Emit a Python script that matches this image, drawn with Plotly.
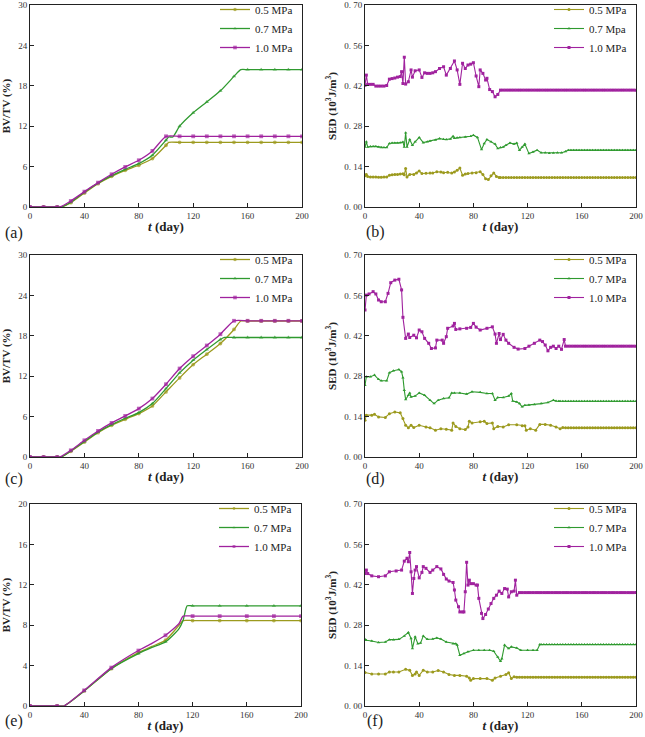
import plotly.graph_objects as go

W, H = 645, 737

# ---------------- Panel (a): BV/TV (%) vs t (day) ----------------
A_T_05 = [0, 10, 20, 23, 30, 40, 50, 60, 70, 80, 90, 100, 102, 110, 120, 130, 140, 150, 160, 170, 180, 190, 200]
A_V_05 = [0, 0, 0, 0, 0.64, 2.08, 3.47, 4.56, 5.45, 6.2, 7.19, 9.17, 9.6, 9.6, 9.6, 9.6, 9.6, 9.6, 9.6, 9.6, 9.6, 9.6, 9.6]
A_T_07 = [0, 10, 20, 23, 30, 40, 50, 60, 70, 80, 90, 100, 102, 105, 110, 120, 130, 140, 150, 155, 160, 170, 180, 190, 200]
A_V_07 = [0, 0, 0, 0, 0.7, 2.2, 3.55, 4.65, 5.6, 6.45, 7.69, 9.92, 10.4, 10.4, 12.0, 14.0, 15.6, 17.25, 19.4, 20.4, 20.4, 20.4, 20.4, 20.4, 20.4]
A_T_10 = [0, 10, 20, 22, 30, 40, 50, 60, 70, 80, 90, 100, 110, 120, 130, 140, 150, 160, 170, 180, 190, 200]
A_V_10 = [0, 0, 0, 0, 0.89, 2.28, 3.62, 4.86, 5.95, 6.94, 8.33, 10.5, 10.5, 10.5, 10.5, 10.5, 10.5, 10.5, 10.5, 10.5, 10.5, 10.5]

# ---------------- Panel (c): BV/TV (%) vs t (day) ----------------
C_T_05 = [0, 10, 20, 23, 30, 40, 50, 60, 70, 80, 90, 100, 110, 120, 130, 140, 150, 155, 160, 170, 180, 190, 200]
C_V_05 = [0, 0, 0, 0, 0.84, 2.23, 3.62, 4.71, 5.6, 6.45, 7.59, 9.67, 11.75, 13.73, 15.27, 16.86, 18.94, 20.2, 20.2, 20.2, 20.2, 20.2, 20.2]
C_T_07 = [0, 10, 20, 23, 30, 40, 50, 60, 70, 80, 90, 100, 110, 120, 130, 140, 143, 150, 160, 170, 180, 190, 200]
C_V_07 = [0, 0, 0, 0, 0.9, 2.3, 3.7, 4.8, 5.75, 6.6, 7.93, 10.16, 12.49, 14.38, 15.96, 17.45, 17.75, 17.75, 17.75, 17.75, 17.75, 17.75, 17.75]
C_T_10 = [0, 10, 20, 22, 30, 40, 50, 60, 70, 80, 90, 100, 110, 120, 130, 140, 150, 160, 170, 180, 190, 200]
C_V_10 = [0, 0, 0, 0, 0.99, 2.48, 3.87, 5.06, 6.1, 7.19, 8.68, 10.81, 13.14, 14.97, 16.56, 18.24, 20.23, 20.23, 20.23, 20.23, 20.23, 20.23]

# ---------------- Panel (e): BV/TV (%) vs t (day) ----------------
E_T_05 = [0, 20, 25, 40, 60, 80, 90, 100, 110, 113, 120, 140, 160, 180, 200]
E_V_05 = [0, 0, 0, 1.49, 3.7, 5.29, 5.9, 6.51, 8.0, 8.46, 8.46, 8.46, 8.46, 8.46, 8.46]
E_T_07 = [0, 20, 25, 40, 60, 80, 90, 100, 110, 113, 116, 120, 140, 160, 180, 200]
E_V_07 = [0, 0, 0, 1.49, 3.7, 5.19, 5.8, 6.35, 7.67, 8.5, 9.92, 9.92, 9.92, 9.92, 9.92, 9.92]
E_T_10 = [0, 20, 25, 40, 60, 80, 90, 100, 110, 113, 120, 140, 160, 180, 200]
E_V_10 = [0, 0, 0, 1.55, 3.8, 5.49, 6.2, 7.0, 8.17, 8.9, 8.9, 8.9, 8.9, 8.9, 8.9]

# ---------------- Panel (b): SED (10^3 J/m^3) vs t (day) ----------------
B_T_05 = [0, 1, 2, 4, 6, 8, 10, 12, 14, 16, 18, 20, 22, 24, 26, 28, 29, 30, 31, 33, 36, 38, 40, 42, 45, 48, 50, 53, 56, 58,
          61, 64, 66, 68, 70, 72, 74, 76, 79, 82, 85, 87, 89, 91, 93, 95, 97, 99]
B_V_05 = [0.108, 0.113, 0.106, 0.104, 0.104, 0.104, 0.103, 0.103, 0.104, 0.104, 0.110, 0.112, 0.113, 0.113, 0.114, 0.115,
          0.112, 0.133, 0.104, 0.113, 0.113, 0.118, 0.125, 0.116, 0.117, 0.118, 0.118, 0.122, 0.121, 0.119, 0.120, 0.118,
          0.121, 0.127, 0.135, 0.110, 0.114, 0.116, 0.118, 0.119, 0.122, 0.113, 0.098, 0.095, 0.108, 0.118, 0.106, 0.102]
B_PLATEAU_05, B_START_05 = 0.102, 100
B_T_07 = [0, 1, 2, 4, 6, 8, 10, 12, 14, 16, 18, 20, 22, 24, 26, 28, 29, 30, 31, 33, 35, 37, 40, 43, 46, 48, 52, 55, 58, 60,
          63, 65, 66, 68, 70, 74, 78, 80, 83, 86, 88, 90, 93, 96, 98, 100, 102, 104, 107, 110, 112, 114, 116, 118, 121, 124,
          127, 130, 133, 136, 139, 142, 145, 148, 150]
B_V_07 = [0.208, 0.226, 0.208, 0.210, 0.210, 0.210, 0.208, 0.206, 0.206, 0.206, 0.220, 0.222, 0.222, 0.222, 0.223, 0.225,
          0.208, 0.257, 0.208, 0.234, 0.214, 0.226, 0.241, 0.223, 0.226, 0.229, 0.232, 0.237, 0.235, 0.234, 0.236, 0.245,
          0.238, 0.240, 0.241, 0.243, 0.245, 0.249, 0.241, 0.199, 0.220, 0.234, 0.226, 0.218, 0.203, 0.206, 0.208, 0.214,
          0.222, 0.218, 0.222, 0.197, 0.208, 0.218, 0.185, 0.191, 0.197, 0.188, 0.188, 0.186, 0.187, 0.188, 0.188, 0.192,
          0.197]
B_PLATEAU_07, B_START_07 = 0.197, 152
B_T_10 = [0, 1, 2, 4, 6, 8, 10, 12, 14, 16, 18, 20, 22, 24, 26, 27, 28, 29, 30, 32, 34, 35, 37, 40, 42, 44, 46, 48, 50, 52,
          55, 58, 60, 63, 66, 68, 70, 72, 74, 76, 78, 80, 82, 84, 85, 87, 89, 90, 92, 94, 96, 98, 100]
B_V_10 = [0.422, 0.457, 0.425, 0.425, 0.425, 0.419, 0.419, 0.419, 0.419, 0.421, 0.443, 0.445, 0.447, 0.450, 0.452, 0.469,
          0.428, 0.519, 0.426, 0.434, 0.475, 0.450, 0.472, 0.475, 0.449, 0.465, 0.463, 0.463, 0.465, 0.469, 0.480, 0.486,
          0.457, 0.480, 0.506, 0.475, 0.425, 0.498, 0.480, 0.492, 0.495, 0.500, 0.454, 0.417, 0.475, 0.463, 0.440, 0.446,
          0.407, 0.400, 0.382, 0.390, 0.405]
B_PLATEAU_10, B_START_10 = 0.405, 102

# ---------------- Panel (d): SED ----------------
D_T_05 = [0, 1, 5, 7, 10, 15, 18, 22, 26, 28, 30, 32, 34, 36, 40, 45, 48, 52, 56, 60, 64, 65, 67, 70, 74, 76, 77, 79, 85, 88,
          90, 94, 95, 98, 102, 106, 112, 116, 118, 119, 122, 126, 129, 133, 137, 141, 144, 146]
D_V_05 = [0.127, 0.145, 0.145, 0.148, 0.139, 0.137, 0.150, 0.156, 0.153, 0.133, 0.110, 0.101, 0.110, 0.102, 0.110, 0.104,
          0.101, 0.093, 0.098, 0.096, 0.093, 0.118, 0.106, 0.098, 0.095, 0.104, 0.124, 0.118, 0.122, 0.124, 0.116, 0.118,
          0.098, 0.106, 0.104, 0.112, 0.112, 0.108, 0.108, 0.093, 0.098, 0.093, 0.113, 0.113, 0.110, 0.104, 0.098, 0.102]
D_PLATEAU_05, D_START_05 = 0.101, 148
D_T_07 = [0, 1, 4, 7, 10, 12, 16, 18, 21, 25, 27, 28, 29, 30, 32, 33, 34, 37, 40, 44, 48, 51, 54, 58, 62, 64, 66, 70, 75, 79,
          85, 90, 94, 96, 98, 102, 106, 108, 109, 112, 114, 116, 118, 121, 125, 130, 135, 139, 141, 143]
D_V_07 = [0.249, 0.278, 0.278, 0.284, 0.269, 0.264, 0.264, 0.292, 0.299, 0.303, 0.295, 0.275, 0.231, 0.199, 0.214, 0.222,
          0.208, 0.211, 0.222, 0.214, 0.197, 0.185, 0.197, 0.203, 0.205, 0.222, 0.222, 0.222, 0.218, 0.226, 0.224, 0.220,
          0.220, 0.197, 0.206, 0.206, 0.211, 0.220, 0.194, 0.191, 0.185, 0.174, 0.179, 0.180, 0.182, 0.185, 0.189, 0.197,
          0.194, 0.193]
D_PLATEAU_07, D_START_07 = 0.193, 144
D_T_10 = [0, 1, 3, 6, 8, 10, 12, 15, 17, 19, 22, 25, 27, 28, 30, 32, 33, 36, 38, 40, 42, 44, 47, 49, 52, 53, 57, 58, 60, 61,
          65, 66, 67, 70, 75, 78, 80, 82, 85, 90, 94, 96, 97, 99, 100, 102, 104, 106, 110, 113, 118, 121, 125, 129, 131,
          133, 135, 137, 139, 141, 143, 145, 147]
D_V_10 = [0.509, 0.561, 0.565, 0.573, 0.565, 0.544, 0.538, 0.538, 0.567, 0.604, 0.613, 0.616, 0.579, 0.484, 0.411, 0.426,
          0.414, 0.422, 0.413, 0.440, 0.434, 0.411, 0.394, 0.376, 0.378, 0.405, 0.405, 0.394, 0.417, 0.446, 0.454, 0.463,
          0.442, 0.444, 0.446, 0.449, 0.463, 0.450, 0.440, 0.446, 0.451, 0.426, 0.394, 0.428, 0.407, 0.425, 0.405, 0.394,
          0.380, 0.374, 0.376, 0.384, 0.394, 0.405, 0.400, 0.388, 0.368, 0.380, 0.384, 0.376, 0.384, 0.373, 0.407]
D_PLATEAU_10, D_START_10 = 0.384, 148

# ---------------- Panel (f): SED ----------------
F_T_05 = [0, 5, 10, 15, 18, 21, 25, 30, 33, 35, 37, 38, 40, 43, 46, 50, 54, 58, 62, 66, 70, 75, 77, 78, 80, 85, 90, 94, 96,
          100, 104, 106, 108, 110]
F_V_05 = [0.116, 0.111, 0.111, 0.111, 0.118, 0.118, 0.118, 0.127, 0.124, 0.106, 0.111, 0.118, 0.106, 0.124, 0.118, 0.118,
          0.123, 0.118, 0.109, 0.106, 0.106, 0.103, 0.097, 0.089, 0.095, 0.095, 0.095, 0.089, 0.097, 0.103, 0.109, 0.115,
          0.095, 0.101]
F_PLATEAU_05, F_START_05 = 0.100, 112
F_T_07 = [0, 1, 5, 10, 15, 18, 21, 25, 29, 32, 34, 35, 37, 39, 41, 43, 46, 50, 53, 56, 60, 65, 67, 68, 70, 73, 76, 80, 84, 88,
          92, 95, 98, 100, 101, 103, 106, 108, 112, 115, 120, 124, 127, 129]
F_V_07 = [0.231, 0.228, 0.225, 0.220, 0.222, 0.230, 0.230, 0.231, 0.243, 0.255, 0.234, 0.199, 0.240, 0.216, 0.218, 0.243,
          0.231, 0.232, 0.236, 0.232, 0.222, 0.216, 0.216, 0.211, 0.176, 0.182, 0.188, 0.193, 0.193, 0.193, 0.193, 0.190,
          0.170, 0.155, 0.164, 0.211, 0.199, 0.205, 0.201, 0.193, 0.193, 0.193, 0.193, 0.213]
F_PLATEAU_07, F_START_07 = 0.213, 130
F_T_10 = [0, 1, 2, 5, 10, 15, 18, 23, 27, 29, 31, 32, 33, 34, 35, 36, 37, 38, 40, 42, 43, 45, 48, 50, 53, 56, 58, 60, 62, 65,
          66, 67, 69, 70, 72, 73, 74, 75, 76, 77, 78, 80, 82, 83, 84, 86, 87, 89, 91, 93, 95, 97, 99, 101, 103, 105, 106,
          108, 110, 111, 112, 114]
F_V_10 = [0.459, 0.471, 0.459, 0.451, 0.448, 0.451, 0.465, 0.468, 0.471, 0.502, 0.512, 0.500, 0.532, 0.465, 0.390, 0.442,
          0.471, 0.483, 0.444, 0.463, 0.483, 0.477, 0.463, 0.471, 0.483, 0.475, 0.456, 0.440, 0.433, 0.428, 0.402, 0.367,
          0.344, 0.326, 0.326, 0.326, 0.396, 0.498, 0.419, 0.436, 0.424, 0.424, 0.419, 0.419, 0.373, 0.321, 0.303, 0.317,
          0.336, 0.355, 0.373, 0.384, 0.398, 0.390, 0.407, 0.405, 0.378, 0.396, 0.398, 0.436, 0.384, 0.393]
F_PLATEAU_10, F_START_10 = 0.393, 116

LABELS = ["0.5 MPa", "0.7 MPa", "1.0 MPa"]
LABELS_B = ["0.5 MPa", "0.7 Mpa", "1.0 MPa"]
BV_TICKS_30 = [0, 6, 12, 18, 24, 30]
BV_TICKS_20 = [0, 4, 8, 12, 16, 20]
SED_TICKS = [0.0, 0.14, 0.28, 0.42, 0.56, 0.70]
SED_TICKTEXT = ["0. 00", "0. 14", "0. 28", "0. 42", "0. 56", "0. 70"]
T_TICKS = [0, 40, 80, 120, 160, 200]

COLORS = ["#9c9a1e", "#2f9a2f", "#a0229e"]
SYMBOLS = ["circle", "triangle-up", "square"]
SERIF = "Liberation Serif, Times New Roman, serif"

# pixel boxes (left, right, top, bottom)
BOXES = {
    1: (30, 302, 5, 207), 2: (365, 636, 5, 207),
    3: (30, 302, 255, 457), 4: (365, 636, 255, 457),
    5: (30, 301, 504, 706), 6: (365, 636, 504, 706),
}

fig = go.Figure()


def with_plateau(ts, vs, level, start):
    days = list(range(start, 201, 2))
    return ts + days, vs + [level] * len(days)


def add_bv(panel, series, step):
    ax = "" if panel == 1 else str(panel)
    leg = "legend" if panel == 1 else "legend%d" % panel
    for i, (ts, vs) in enumerate(series):
        sizes = [3.8 if t % step == 0 else 0 for t in ts]
        fig.add_trace(go.Scatter(
            x=ts, y=vs, mode="lines+markers", name=LABELS[i],
            line=dict(color=COLORS[i], width=1.3, shape="spline", smoothing=0.6),
            marker=dict(color=COLORS[i], size=sizes, symbol=SYMBOLS[i], line=dict(width=0)),
            xaxis="x" + ax, yaxis="y" + ax, legend=leg))


def add_sed(panel, series, labels):
    ax = str(panel)
    leg = "legend%d" % panel
    for i, (ts, vs) in enumerate(series):
        fig.add_trace(go.Scatter(
            x=ts, y=vs, mode="lines+markers", name=labels[i],
            line=dict(color=COLORS[i], width=1.1),
            marker=dict(color=COLORS[i], size=3, symbol=SYMBOLS[i], line=dict(width=0)),
            xaxis="x" + ax, yaxis="y" + ax, legend=leg))


add_bv(1, [(A_T_05, A_V_05), (A_T_07, A_V_07), (A_T_10, A_V_10)], 10)
add_bv(3, [(C_T_05, C_V_05), (C_T_07, C_V_07), (C_T_10, C_V_10)], 10)
add_bv(5, [(E_T_05, E_V_05), (E_T_07, E_V_07), (E_T_10, E_V_10)], 20)

add_sed(2, [with_plateau(B_T_05, B_V_05, B_PLATEAU_05, B_START_05),
            with_plateau(B_T_07, B_V_07, B_PLATEAU_07, B_START_07),
            with_plateau(B_T_10, B_V_10, B_PLATEAU_10, B_START_10)], LABELS_B)
add_sed(4, [with_plateau(D_T_05, D_V_05, D_PLATEAU_05, D_START_05),
            with_plateau(D_T_07, D_V_07, D_PLATEAU_07, D_START_07),
            with_plateau(D_T_10, D_V_10, D_PLATEAU_10, D_START_10)], LABELS)
add_sed(6, [with_plateau(F_T_05, F_V_05, F_PLATEAU_05, F_START_05),
            with_plateau(F_T_07, F_V_07, F_PLATEAU_07, F_START_07),
            with_plateau(F_T_10, F_V_10, F_PLATEAU_10, F_START_10)], LABELS)

tick_font = dict(family=SERIF, size=9, color="#333")
layout = dict(
    width=W, height=H, margin=dict(l=0, r=0, t=0, b=0, pad=0, autoexpand=False),
    paper_bgcolor="white", plot_bgcolor="white", showlegend=True,
    font=dict(family=SERIF, color="#222"),
)

for p, (l, r, t, b) in BOXES.items():
    ax = "" if p == 1 else str(p)
    sed = p % 2 == 0
    xd = [l / W, r / W]
    yd = [1 - b / H, 1 - t / H]
    layout["xaxis" + ax] = dict(
        domain=xd, range=[0, 200], tickvals=T_TICKS, anchor="y" + ax, automargin=False,
        ticks="inside", ticklen=4, tickcolor="#222", showline=True, mirror=True,
        linecolor="#222", linewidth=1, showgrid=False, zeroline=False,
        tickfont=tick_font,
        title=dict(text="<b><i>t</i> (day)</b>", font=dict(family=SERIF, size=13, color="#222"), standoff=2))
    if sed:
        yextra = dict(range=[0, 0.70], tickvals=SED_TICKS, ticktext=SED_TICKTEXT,
                      title=dict(text="<b>SED (10<sup>3</sup>J/m<sup>3</sup>)</b>",
                                 font=dict(family=SERIF, size=11, color="#222"), standoff=5))
    else:
        ticks = BV_TICKS_20 if p == 5 else BV_TICKS_30
        yextra = dict(range=[0, ticks[-1]], tickvals=ticks,
                      title=dict(text="<b>BV/TV (%)</b>",
                                 font=dict(family=SERIF, size=11, color="#222"), standoff=6))
    layout["yaxis" + ax] = dict(
        domain=yd, anchor="x" + ax, automargin=False, ticks="inside", ticklen=4, tickcolor="#222",
        showline=True, mirror=True, linecolor="#222", linewidth=1, showgrid=False,
        zeroline=False, tickfont=tick_font, **yextra)
    leg = "legend" if p == 1 else "legend%d" % p
    layout[leg] = dict(
        x=(r - 4) / W, y=1 - (t - 10) / H, xanchor="right", yanchor="top",
        bgcolor="rgba(0,0,0,0)", font=dict(family=SERIF, size=11, color="#222"),
        itemwidth=30, tracegroupgap=0)

fig.update_layout(**layout)

LETTERS = [("(a)", 3, 233), ("(b)", 364, 232), ("(c)", 3, 479), ("(d)", 364, 479), ("(e)", 3, 721), ("(f)", 365, 721)]
for txt, px, py in LETTERS:
    fig.add_annotation(text=txt, x=px / W, y=1 - py / H, xref="paper", yref="paper",
                       xanchor="left", yanchor="middle", showarrow=False,
                       font=dict(family=SERIF, size=16, color="#222"))

fig.write_html("out.html", config={"displayModeBar": False},
               post_script="document.body.style.margin='0px';")
